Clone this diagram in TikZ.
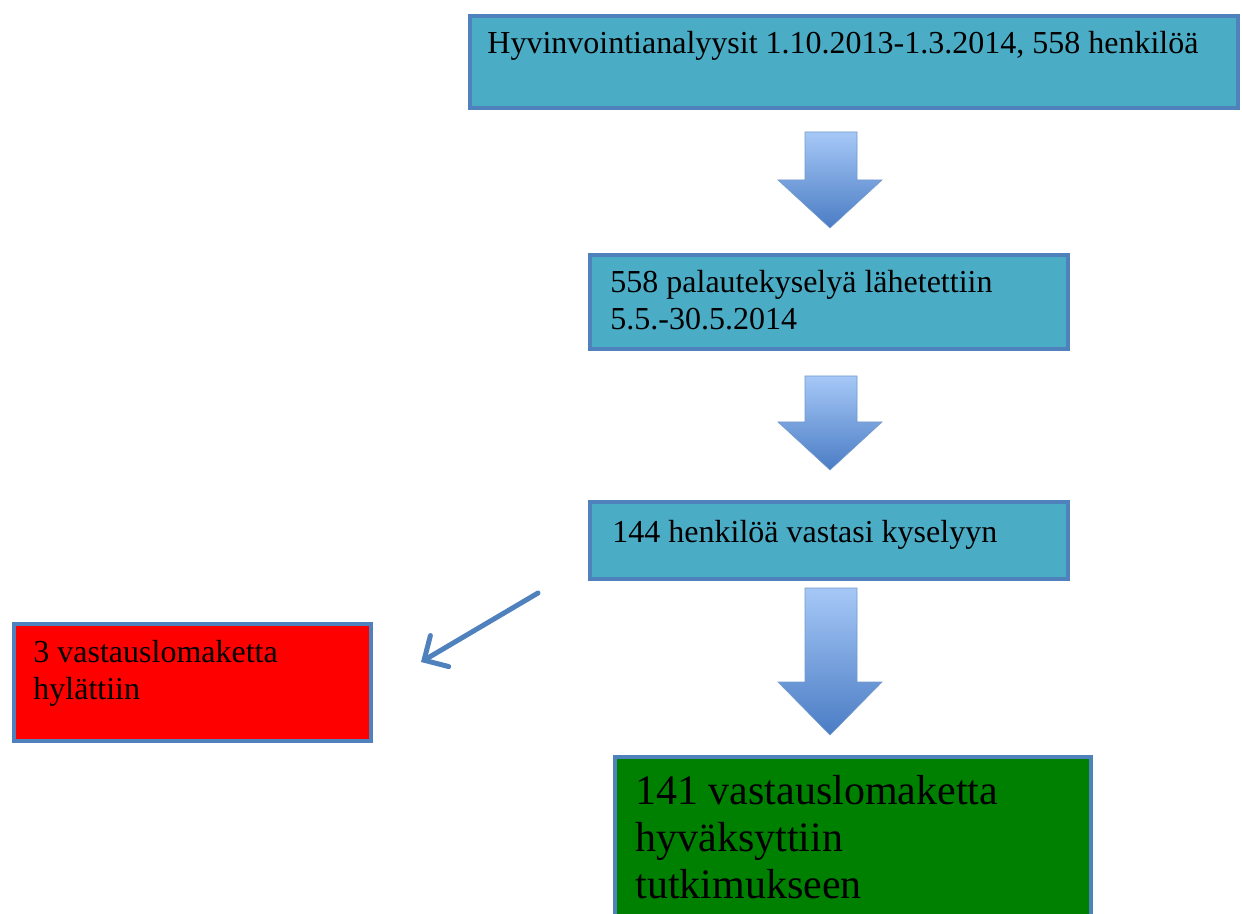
\documentclass[tikz,border=0pt]{standalone}
\usepackage{fontspec}
\setmainfont{Liberation Serif}
\usetikzlibrary{arrows.meta}

\definecolor{boxcyan}{HTML}{4BACC6}
\definecolor{edgeblue}{HTML}{4F81BD}
\definecolor{arrowtop}{HTML}{A6C8F7}
\definecolor{arrowbottom}{HTML}{4A7CC4}
\definecolor{rejectred}{HTML}{FF0000}
\definecolor{acceptgreen}{HTML}{008000}

\tikzset{
    stagebox/.style={draw=edgeblue, line width=2pt, rectangle, inner sep=0pt,
        anchor=north west},
    stagetext/.style={anchor=base west, align=left, inner sep=0pt,
        font=\fontsize{16pt}{18.5pt}\selectfont},
    bigtext/.style={anchor=base west, align=left, inner sep=0pt,
        font=\fontsize{21pt}{24.5pt}\selectfont},
    blockarrow/.style={top color=arrowtop, bottom color=arrowbottom,
        draw=edgeblue!80, line width=0.3pt},
    thinarrow/.style={draw=edgeblue, line width=2.5pt, line cap=round,
        -{Straight Barb[length=9pt, width=18pt, line cap=round]}}
}

\begin{document}
\begin{tikzpicture}[x=0.5pt, y=-0.5pt]
    \useasboundingbox (0,0) rectangle (1242,914);
    \clip (0,0) rectangle (1242,914);

    % Boxes
    \node[stagebox, fill=boxcyan, minimum width=384pt, minimum height=46pt]
        (analyses) at (468,14) {};
    \node[stagebox, fill=boxcyan, minimum width=239pt, minimum height=47pt]
        (sent) at (588,253) {};
    \node[stagebox, fill=boxcyan, minimum width=239pt, minimum height=38.5pt]
        (answered) at (588,500) {};
    \node[stagebox, fill=rejectred, minimum width=178.5pt, minimum height=58.5pt]
        (rejected) at (12,622) {};
    \node[stagebox, fill=acceptgreen, minimum width=238pt, minimum height=100pt]
        (accepted) at (613,755) {};

    % Texts (base = last line)
    \node[stagetext] (analysestext) at (487,54)
        {Hyvinvointianalyysit 1.10.2013-1.3.2014, 558 henkilöä};
    \node[stagetext] (senttext) at (610,330)
        {558 palautekyselyä lähetettiin\\5.5.-30.5.2014};
    \node[stagetext] (answeredtext) at (612,542) {144 henkilöä vastasi kyselyyn};
    \node[stagetext] (rejectedtext) at (33,699) {3 vastauslomaketta\\hylättiin};
    \node[bigtext] (acceptedtext) at (635,898)
        {141 vastauslomaketta\\[-1pt]hyväksyttiin\\[-1pt]tutkimukseen};

    % Block arrows
    \foreach \ytop/\ybase/\ytip in {132/180/228, 376/422/470, 588/682/735}
        \shade[blockarrow] (805,\ytop) -- (857,\ytop) -- (857,\ybase)
            -- (882,\ybase) -- (830,\ytip) -- (778,\ybase) -- (805,\ybase) -- cycle;

    % Rejected
    \coordinate (rejectstart) at (538,593);
    \coordinate (rejectend) at (421,662);
    \draw[thinarrow] (rejectstart) -- (rejectend);
\end{tikzpicture}
\end{document}
